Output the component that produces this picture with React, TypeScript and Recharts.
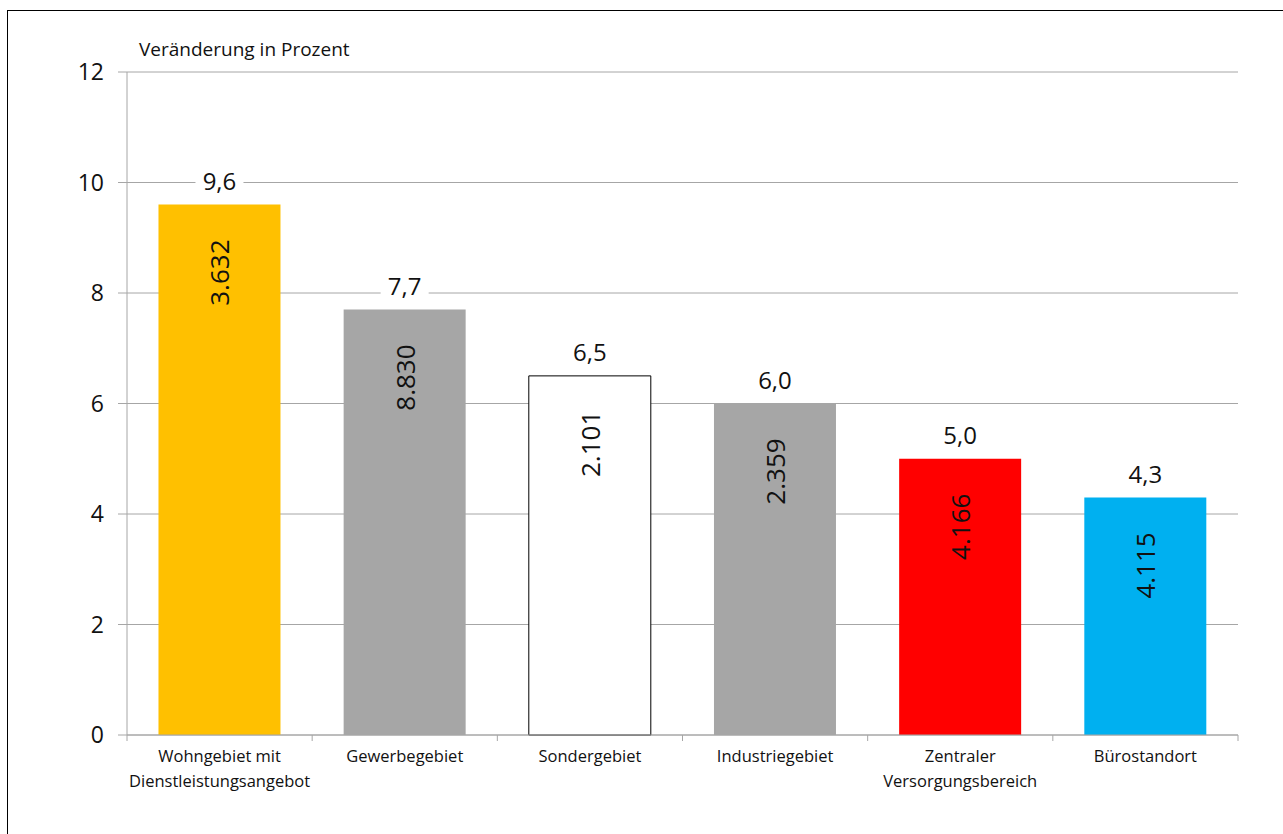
import {Bar, BarChart, CartesianGrid, Cell, LabelList, XAxis, YAxis} from "recharts";

const categories = [
    "Wohngebiet mit\nDienstleistungsangebot",
    "Gewerbegebiet",
    "Sondergebiet",
    "Industriegebiet",
    "Zentraler\nVersorgungsbereich",
    "Bürostandort",
];
const changes = [9.6, 7.7, 6.5, 6.0, 5.0, 4.3];
const counts = ["3.632", "8.830", "2.101", "2.359", "4.166", "4.115"];
const colors = ["#FFC000", "#A6A6A6", "#FFFFFF", "#A6A6A6", "#FF0000", "#00B0F0"];
const yTicks = [0, 2, 4, 6, 8, 10, 12];

const FONT = "'Open Sans', 'Noto Sans', sans-serif";
const GRID = "#A6A6A6";
const X_TICK_SIZE = 6;
const X_TICK_MARGIN = 2;

const data = categories.map((c, i) => ({
    name: c,
    change: changes[i],
    count: counts[i],
}));

// Kategorie-Beschriftung + Teilstriche an den Kategoriegrenzen
function CategoryTick({x, y, payload, index, visibleTicksCount}: any) {
    const lines = String(payload.value).split("\n");
    const half = payload.offset ?? 0;
    const axisY = y - X_TICK_SIZE - X_TICK_MARGIN;
    const isLast = index === visibleTicksCount - 1;
    return (
        <g>
            {half > 0 && (
                <line x1={x - half} x2={x - half} y1={axisY} y2={axisY + 6} stroke={GRID}/>
            )}
            {half > 0 && isLast && (
                <line x1={x + half} x2={x + half} y1={axisY} y2={axisY + 6} stroke={GRID}/>
            )}
            <text x={x} y={y} textAnchor="middle" fontFamily={FONT} fontSize={16.5} fill="#111">
                {lines.map((l, i) => (
                    <tspan key={i} x={x} dy={i === 0 ? 19 : 25}>{l}</tspan>
                ))}
            </text>
        </g>
    );
}

function TopLabel({x, y, width, value}: any) {
    const cx = x + width / 2;
    const cy = y - 24;
    const txt = Number(value).toFixed(1).replace(".", ",");
    return (
        <g>
            <rect x={cx - 24} y={cy - 14} width={48} height={28} fill="#fff"/>
            <text x={cx} y={cy} textAnchor="middle" dominantBaseline="central"
                  fontFamily={FONT} fontSize={24} fill="#111">{txt}</text>
        </g>
    );
}

function InnerLabel({x, y, width, value}: any) {
    const cx = x + width / 2;
    const cy = y + 68;
    return (
        <text x={cx} y={cy} textAnchor="middle" dominantBaseline="central"
              transform={`rotate(-90 ${cx} ${cy})`}
              fontFamily={FONT} fontSize={26} fill="#111">{value}</text>
    );
}

export default function App() {
    return (
        <div style={{position: "absolute", left: 7, top: 10, width: 1300, height: 850, border: "1px solid #000", background: "#fff"}}>
            <div style={{position: "absolute", left: 131, top: 25, fontFamily: FONT, fontSize: 19, color: "#111"}}>
                Veränderung in Prozent
            </div>
            <BarChart
                width={1270}
                height={824}
                data={data}
                margin={{top: 61, right: 40, bottom: 0, left: 0}}
                barCategoryGap="17%"
            >
                <CartesianGrid vertical={false} stroke={GRID} strokeWidth={1}/>
                <XAxis
                    dataKey="name"
                    height={100}
                    axisLine={{stroke: GRID}}
                    tickLine={false}
                    tickSize={X_TICK_SIZE}
                    tickMargin={X_TICK_MARGIN}
                    interval={0}
                    tick={<CategoryTick/>}
                />
                <YAxis
                    width={119}
                    domain={[0, 12]}
                    ticks={yTicks}
                    interval={0}
                    axisLine={{stroke: GRID}}
                    tickLine={{stroke: GRID}}
                    tickSize={9}
                    tickMargin={14}
                    tick={{fontFamily: FONT, fontSize: 23, fill: "#111"}}
                />
                <Bar dataKey="change" isAnimationActive={false}>
                    {data.map((_, i) => (
                        <Cell key={i} fill={colors[i]} stroke={colors[i] === "#FFFFFF" ? "#000" : "none"} strokeWidth={1}/>
                    ))}
                    <LabelList dataKey="change" content={<TopLabel/>}/>
                    <LabelList dataKey="count" content={<InnerLabel/>}/>
                </Bar>
            </BarChart>
        </div>
    );
}
